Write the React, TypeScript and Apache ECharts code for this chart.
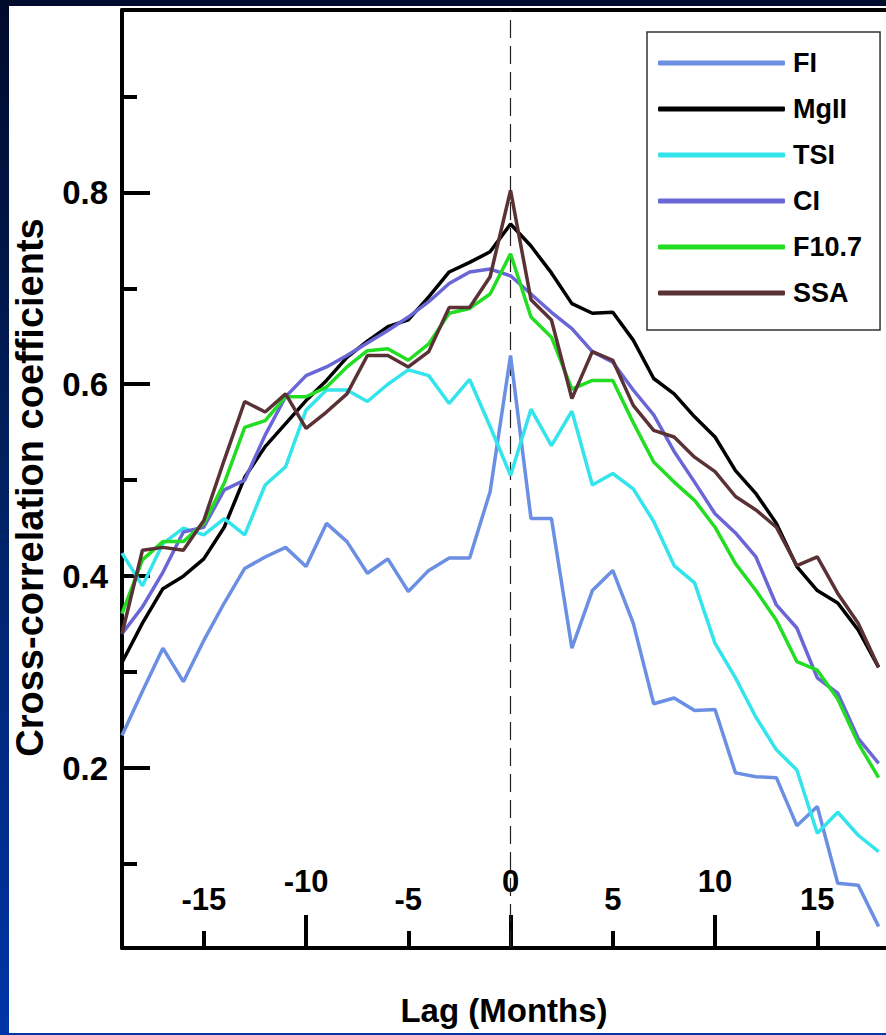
import React, { useEffect, useRef } from 'react';
import * as echarts from 'echarts';

const lags = [-19, -18, -17, -16, -15, -14, -13, -12, -11, -10, -9, -8, -7, -6, -5, -4, -3, -2, -1, 0, 1, 2, 3, 4, 5, 6, 7, 8, 9, 10, 11, 12, 13, 14, 15, 16, 17, 18];

const fiValues = [0.234, 0.28, 0.325, 0.29, 0.333, 0.372, 0.408, 0.42, 0.43, 0.41, 0.455, 0.436, 0.403, 0.418, 0.384, 0.406, 0.419, 0.419, 0.488, 0.63, 0.46, 0.46, 0.325, 0.385, 0.406, 0.351, 0.267, 0.273, 0.26, 0.261, 0.195, 0.191, 0.19, 0.14, 0.16, 0.08, 0.078, 0.035];
const mgiiValues = [0.31, 0.351, 0.387, 0.4, 0.418, 0.451, 0.503, 0.535, 0.559, 0.583, 0.604, 0.628, 0.645, 0.66, 0.667, 0.691, 0.717, 0.727, 0.738, 0.767, 0.744, 0.716, 0.684, 0.674, 0.675, 0.646, 0.606, 0.59, 0.566, 0.545, 0.51, 0.486, 0.455, 0.41, 0.385, 0.372, 0.344, 0.305];
const tsiValues = [0.424, 0.39, 0.434, 0.45, 0.443, 0.46, 0.443, 0.495, 0.514, 0.573, 0.594, 0.594, 0.582, 0.6, 0.615, 0.609, 0.58, 0.605, 0.556, 0.505, 0.574, 0.536, 0.572, 0.495, 0.507, 0.491, 0.457, 0.411, 0.393, 0.33, 0.294, 0.253, 0.219, 0.198, 0.132, 0.154, 0.13, 0.113];
const ciValues = [0.34, 0.368, 0.404, 0.446, 0.451, 0.49, 0.5, 0.547, 0.587, 0.609, 0.618, 0.63, 0.643, 0.656, 0.67, 0.686, 0.705, 0.717, 0.72, 0.713, 0.694, 0.675, 0.658, 0.634, 0.623, 0.594, 0.568, 0.53, 0.498, 0.465, 0.445, 0.42, 0.37, 0.346, 0.294, 0.278, 0.231, 0.205];
const f107Values = [0.361, 0.417, 0.436, 0.436, 0.455, 0.497, 0.555, 0.562, 0.587, 0.587, 0.597, 0.618, 0.635, 0.637, 0.625, 0.642, 0.674, 0.679, 0.694, 0.736, 0.67, 0.649, 0.595, 0.604, 0.604, 0.56, 0.519, 0.498, 0.479, 0.451, 0.413, 0.385, 0.354, 0.311, 0.302, 0.272, 0.226, 0.19];
const ssaValues = [0.34, 0.427, 0.43, 0.427, 0.458, 0.521, 0.582, 0.571, 0.59, 0.554, 0.571, 0.59, 0.63, 0.63, 0.618, 0.634, 0.68, 0.68, 0.712, 0.802, 0.688, 0.667, 0.585, 0.634, 0.625, 0.578, 0.552, 0.545, 0.524, 0.509, 0.483, 0.469, 0.451, 0.411, 0.42, 0.382, 0.351, 0.305];

const seriesNames = ['FI', 'MgII', 'TSI', 'CI', 'F10.7', 'SSA'];
const seriesValues = [fiValues, mgiiValues, tsiValues, ciValues, f107Values, ssaValues];
const seriesColors = ['#6b8fe3', '#000000', '#33e4ec', '#6a66d6', '#22dd22', '#5a3134'];

const yMajorTicks = [0.2, 0.4, 0.6, 0.8];
const yMinorTicks = [0.1, 0.3, 0.5, 0.7, 0.9];
const xLowTicks = [-15, -5, 5, 15];
const xHighTicks = [-10, 0, 10];

const xMin = -19;
const xMax = 18.36;
const yMin = 0.0125;
const yMax = 0.99;

const boldSans = "'Liberation Sans', Arial, Helvetica, sans-serif";

export default function App() {
  const ref = useRef<HTMLDivElement>(null);

  useEffect(() => {
    if (!ref.current) return;
    const chart = echarts.init(ref.current, null, { renderer: 'svg' });

    const axisBlack = { color: '#000', width: 4 };

    const series: any[] = seriesNames.map((name, i) => ({
      name,
      type: 'line',
      xAxisIndex: 0,
      yAxisIndex: 0,
      symbol: 'none',
      lineStyle: { color: seriesColors[i], width: 3.5 },
      itemStyle: { color: seriesColors[i] },
      data: lags.map((l, j) => [l, seriesValues[i][j]]),
      z: 3 + i,
    }));
    series[0].markLine = {
      silent: true,
      symbol: 'none',
      label: { show: false },
      lineStyle: { color: '#222', width: 1.2, type: [18, 8] },
      data: [{ xAxis: 0 }],
      z: 2,
    };

    chart.setOption({
      animation: false,
      backgroundColor: '#ffffff',
      grid: { left: 113, top: 4, right: 0, bottom: 85, outerBoundsMode: 'none', containLabel: false },
      legend: {
        show: true,
        orient: 'vertical',
        left: 638,
        top: 26,
        padding: [16, 18, 22, 11],
        itemWidth: 127,
        itemHeight: 5,
        itemGap: 16,
        icon: 'roundRect',
        backgroundColor: '#ffffff',
        borderColor: '#333',
        borderWidth: 1.5,
        borderRadius: 0,
        data: seriesNames,
        textStyle: { color: '#000', fontSize: 27, fontWeight: 'bold', fontFamily: boldSans, lineHeight: 30, padding: [0, 0, 0, 3] },
      },
      xAxis: [
        {
          type: 'value', min: xMin, max: xMax, position: 'bottom',
          axisLine: { show: true, onZero: false, lineStyle: axisBlack },
          axisTick: { show: true, inside: true, length: 17, lineStyle: axisBlack, customValues: xLowTicks },
          axisLabel: { show: true, inside: true, margin: 33, customValues: xLowTicks, color: '#000', fontSize: 31, fontWeight: 'bold', fontFamily: boldSans },
          splitLine: { show: false },
          name: 'Lag (Months)', nameLocation: 'middle', nameGap: 46,
          nameTextStyle: { color: '#000', fontSize: 33, fontWeight: 'bold', fontFamily: boldSans },
        },
        {
          type: 'value', min: xMin, max: xMax, position: 'bottom',
          axisLine: { show: false, onZero: false },
          axisTick: { show: true, inside: true, length: 33, lineStyle: axisBlack, customValues: xHighTicks },
          axisLabel: { show: true, inside: true, margin: 51, customValues: xHighTicks, color: '#000', fontSize: 31, fontWeight: 'bold', fontFamily: boldSans },
          splitLine: { show: false },
        },
        {
          type: 'value', min: xMin, max: xMax, position: 'top',
          axisLine: { show: true, onZero: false, lineStyle: axisBlack },
          axisTick: { show: false },
          axisLabel: { show: false },
          splitLine: { show: false },
        },
      ],
      yAxis: [
        {
          type: 'value', min: yMin, max: yMax, position: 'left',
          axisLine: { show: true, onZero: false, lineStyle: axisBlack },
          axisTick: { show: true, inside: true, length: 28, lineStyle: axisBlack, customValues: yMajorTicks },
          axisLabel: { show: true, margin: 14, customValues: yMajorTicks, color: '#000', fontSize: 33, fontWeight: 'bold', fontFamily: boldSans, formatter: (v: number) => v.toFixed(1) },
          splitLine: { show: false },
        },
        {
          type: 'value', min: yMin, max: yMax, position: 'left',
          axisLine: { show: false, onZero: false },
          axisTick: { show: true, inside: true, length: 15, lineStyle: axisBlack, customValues: yMinorTicks },
          axisLabel: { show: false },
          splitLine: { show: false },
        },
      ],
      graphic: [
        {
          type: 'text',
          x: 21,
          y: 481.5,
          rotation: Math.PI / 2,
          style: {
            text: 'Cross-correlation coefficients',
            fill: '#000',
            font: "bold 38px 'Liberation Sans', Arial, sans-serif",
            textAlign: 'center',
            textVerticalAlign: 'middle',
          },
        },
      ],
      series,
    });

    return () => chart.dispose();
  }, []);

  return (
    <div style={{ position: 'fixed', left: 0, top: 0, width: 886, height: 1035, background: 'linear-gradient(180deg, #000a2c 0%, #00205f 45%, #0035a8 100%)', overflow: 'hidden' }}>
      <div ref={ref} style={{ position: 'absolute', left: 9, top: 6, width: 877, height: 1027, background: '#fff' }} />
    </div>
  );
}
